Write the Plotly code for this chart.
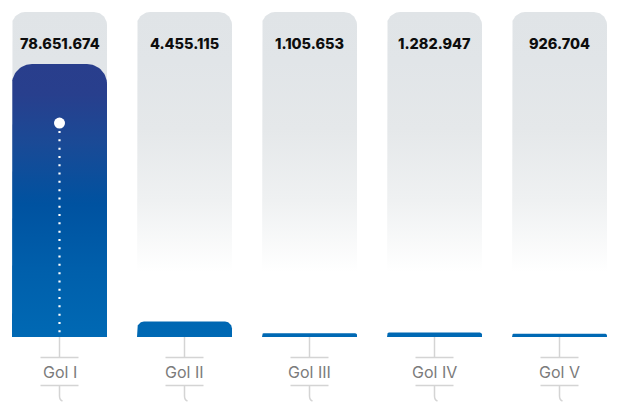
import numpy as np
import plotly.graph_objects as go

# ---- data -------------------------------------------------------------
CATEGORIES = ["Gol I", "Gol II", "Gol III", "Gol IV", "Gol V"]
VALUES = [78651674, 4455115, 1105653, 1282947, 926704]
HIGHLIGHT_CATEGORY = "Gol I"
HIGHLIGHT_LEVEL = 61_650_000

# ---- canvas / axis geometry --------------------------------------------
W, H = 624, 403
X_RANGE = [-0.476, 4.516]
Y_RANGE = [-19.0e6, 97.1e6]
X_PER_PX = (X_RANGE[1] - X_RANGE[0]) / W
Y_PER_PX = (Y_RANGE[1] - Y_RANGE[0]) / H


def data_y(px_row):
    """Pixel row (from top) -> value on the y axis."""
    return Y_RANGE[1] - px_row * Y_PER_PX


def paper_y(px_row):
    return 1 - px_row / H


HALF_W = 47.5 * X_PER_PX
BASELINE_PX = 337


def rounded_top(xc, top, r_px, base=0.0):
    """Outline of a column with rounded top corners (r_px in screen pixels)."""
    rx, ry = r_px * X_PER_PX, r_px * Y_PER_PX
    t = np.linspace(0, np.pi / 2, 18)
    xl, xr = xc - HALF_W, xc + HALF_W
    lx = xl + rx - rx * np.cos(t)
    ly = top - ry + ry * np.sin(t)
    rxs = xr - rx + rx * np.sin(t)
    rys = top - ry + ry * np.cos(t)
    xs = [xl] + list(lx) + list(rxs) + [xr, xl]
    ys = [base] + list(ly) + list(rys) + [base, base]
    return xs, ys


fig = go.Figure()

# grey backdrop columns fading out towards the baseline
col_top = data_y(12)
grey_scale = [
    [0.0, "#ffffff"], [0.2, "#ffffff"], [0.42, "#eff1f2"],
    [0.64, "#e5e8ea"], [0.85, "#e1e5e8"], [1.0, "#e0e4e7"],
]
for i, _ in enumerate(CATEGORIES):
    xs, ys = rounded_top(i, col_top, 13)
    fig.add_trace(go.Scatter(
        x=xs, y=ys, mode="lines", fill="toself",
        line=dict(width=0, color="rgba(0,0,0,0)"),
        fillgradient=dict(type="vertical", colorscale=grey_scale,
                          start=0, stop=col_top),
        hoverinfo="skip", showlegend=False,
    ))

# blue value columns with a shared vertical gradient
blue_scale = [
    [0.0, "#0069b4"], [0.25, "#005fab"], [0.49, "#0052a0"],
    [0.71, "#1a4a96"], [0.89, "#283f8d"], [1.0, "#293e8c"],
]
vmax = max(VALUES)
for i, (cat, v) in enumerate(zip(CATEGORIES, VALUES)):
    h_px = v / Y_PER_PX
    r = min(20, h_px * 0.45)
    xs, ys = rounded_top(i, v, r)
    fig.add_trace(go.Scatter(
        x=xs, y=ys, mode="lines", fill="toself",
        line=dict(width=0, color="rgba(0,0,0,0)"),
        fillgradient=dict(type="vertical", colorscale=blue_scale,
                          start=0, stop=vmax),
        hoverinfo="skip", showlegend=False, name=cat,
    ))

# highlight marker with dotted drop line
hi = CATEGORIES.index(HIGHLIGHT_CATEGORY)
fig.add_trace(go.Scatter(
    x=[hi, hi], y=[HIGHLIGHT_LEVEL - 8 * Y_PER_PX, 0], mode="lines",
    line=dict(color="white", width=2.2, dash="2px,6.3px"),
    hoverinfo="skip", showlegend=False,
))
fig.add_trace(go.Scatter(
    x=[hi], y=[HIGHLIGHT_LEVEL], mode="markers",
    marker=dict(color="white", size=11, line=dict(width=0)),
    hoverinfo="skip", showlegend=False,
))

# value labels and category labels
shapes, annotations = [], []
orn = dict(color="#d4d4d4", width=1.5)
tick_half = 19 * X_PER_PX
for i, (cat, v) in enumerate(zip(CATEGORIES, VALUES)):
    annotations.append(dict(
        x=i, y=paper_y(43), xref="x", yref="paper",
        text=f"{v:,}".replace(",", "."), showarrow=False,
        font=dict(family="Inter", size=14.5, color="#0d0d0d", weight=800),
        xanchor="center", yanchor="middle",
    ))
    annotations.append(dict(
        x=i, y=paper_y(372), xref="x", yref="paper",
        text=cat, showarrow=False,
        font=dict(family="Inter", size=16, color="#7b7b7b"),
        xanchor="center", yanchor="middle",
    ))
    shapes += [
        dict(type="line", xref="x", yref="paper", x0=i, x1=i,
             y0=paper_y(BASELINE_PX), y1=paper_y(357.5), line=orn),
        dict(type="line", xref="x", yref="paper", x0=i - tick_half,
             x1=i + tick_half, y0=paper_y(357.5), y1=paper_y(357.5), line=orn),
        dict(type="line", xref="x", yref="paper", x0=i - tick_half,
             x1=i + tick_half, y0=paper_y(385.5), y1=paper_y(385.5), line=orn),
        dict(type="path", xref="x", yref="paper", line=orn,
             path=(f"M {i},{paper_y(385.5)} L {i},{paper_y(396)} "
                   f"Q {i},{paper_y(400)} {i + 3 * X_PER_PX},{paper_y(401)}")),
    ]

fig.update_layout(
    width=W, height=H,
    margin=dict(l=0, r=0, t=0, b=0),
    paper_bgcolor="white", plot_bgcolor="white",
    xaxis=dict(range=X_RANGE, visible=False, fixedrange=True),
    yaxis=dict(range=Y_RANGE, visible=False, fixedrange=True),
    shapes=shapes, annotations=annotations,
    showlegend=False,
)

fig.write_html("out.html", config={"displayModeBar": False})
